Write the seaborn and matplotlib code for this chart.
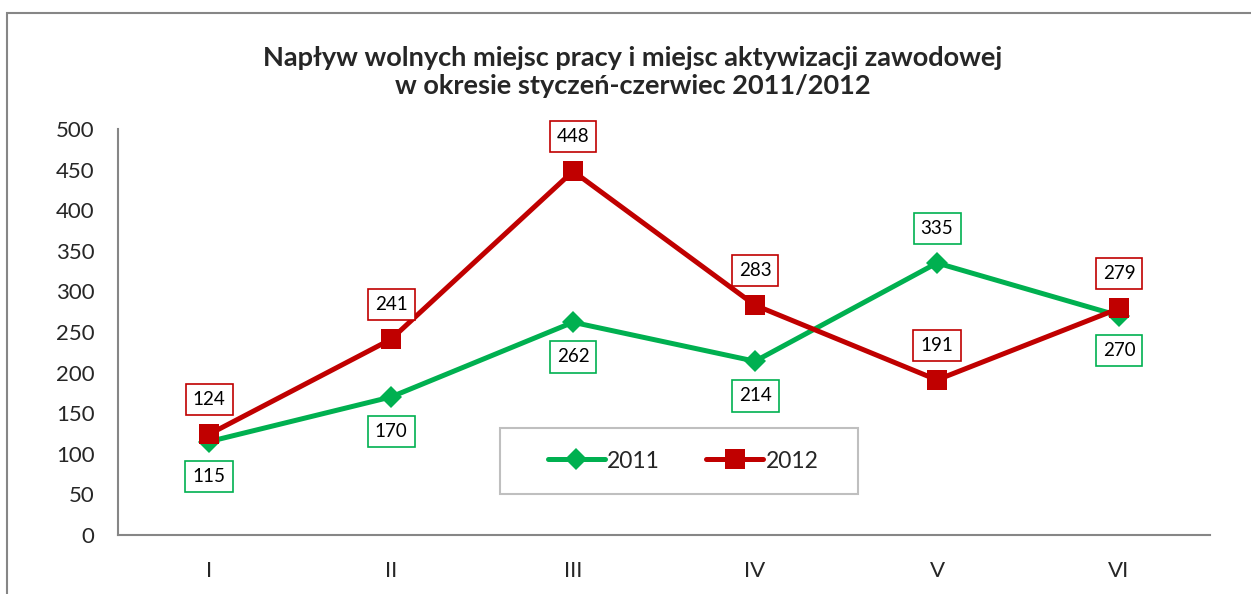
import matplotlib
matplotlib.use("Agg")
import matplotlib.pyplot as plt
from matplotlib.patches import Rectangle
import seaborn as sns
import pandas as pd

# Data
months = ['I', 'II', 'III', 'IV', 'V', 'VI']
values_2011 = [115, 170, 262, 214, 335, 270]
values_2012 = [124, 241, 448, 283, 191, 279]
# label placement: +1 above the point, -1 below
side_2011 = [-1, -1, -1, -1, 1, -1]
side_2012 = [1, 1, 1, 1, 1, 1]

green = '#00B050'
red = '#C00000'
axis_gray = '#868686'

sns.set_style('white')
plt.rcParams['font.family'] = ['Lato', 'DejaVu Sans']

df = pd.DataFrame({
    'pos': list(range(len(months))) * 2,
    'value': values_2011 + values_2012,
    'year': ['2011'] * len(months) + ['2012'] * len(months),
})

fig = plt.figure(figsize=(12.51, 5.94), dpi=100)
ax = fig.add_axes([118 / 1251, 1 - 535 / 594, (1210 - 118) / 1251, (535 - 129) / 594])

sns.lineplot(data=df[df['year'] == '2011'], x='pos', y='value', ax=ax,
             color=green, lw=3.6, marker='D', markersize=11,
             markeredgewidth=0, label='2011')
sns.lineplot(data=df[df['year'] == '2012'], x='pos', y='value', ax=ax,
             color=red, lw=3.6, marker='s', markersize=14,
             markeredgewidth=0, label='2012')

# data labels in boxes
for vals, sides, col in [(values_2011, side_2011, green), (values_2012, side_2012, red)]:
    for i, (v, s) in enumerate(zip(vals, sides)):
        ax.annotate(str(v), (i, v), xytext=(0, 25 * s), textcoords='offset points',
                    ha='center', va='center', fontsize=13.5, color='black',
                    bbox=dict(boxstyle='square,pad=0.38', fc='white', ec=col, lw=1.2))

ax.set_xlim(-0.5, len(months) - 0.5)
ax.set_ylim(0, 500)
ax.set_yticks(range(0, 501, 50))
ax.set_xticks([i - 0.5 for i in range(len(months) + 1)])
ax.set_xticklabels([])
ax.set_xticks(range(len(months)), minor=True)
ax.set_xticklabels(months, minor=True)
ax.tick_params(axis='x', which='major', length=7, width=1.5, color=axis_gray, direction='out')
ax.tick_params(axis='x', which='minor', length=0, pad=19, labelsize=16)
ax.tick_params(axis='y', length=7, width=1.5, color=axis_gray, direction='out', labelsize=16, pad=10)
ax.set_xlabel('')
ax.set_ylabel('')
for side in ['top', 'right']:
    ax.spines[side].set_visible(False)
for side in ['left', 'bottom']:
    ax.spines[side].set_color(axis_gray)
    ax.spines[side].set_linewidth(1.5)

# legend box drawn separately (wider side padding than matplotlib allows)
ax.add_patch(Rectangle((500 / 1251, 1 - 494 / 594), 358 / 1251, 66 / 594,
                       transform=fig.transFigure, fill=True, fc='white',
                       ec='#BFBFBF', lw=1.5, zorder=3, clip_on=False))
leg = ax.legend(loc='center', bbox_to_anchor=(683 / 1251, 1 - 461 / 594),
                bbox_transform=fig.transFigure, ncol=2, fontsize=16.5,
                frameon=False, handlelength=2.5, handletextpad=0.1,
                columnspacing=2.0)
leg.set_zorder(4)

fig.text(633 / 1251, 1 - 72 / 594,
         'Napływ wolnych miejsc pracy i miejsc aktywizacji zawodowej\n'
         'w okresie styczeń-czerwiec 2011/2012',
         ha='center', va='center', fontsize=19.5, fontweight='bold', linespacing=1.25)

# outer chart frame (left and top edges visible)
fig.patches.append(Rectangle((7 / 1251, -0.2), 2, 1.2 - 13 / 594,
                             transform=fig.transFigure, fill=False,
                             ec=axis_gray, lw=1.5, clip_on=False))

fig.savefig('out.png', dpi=100)
